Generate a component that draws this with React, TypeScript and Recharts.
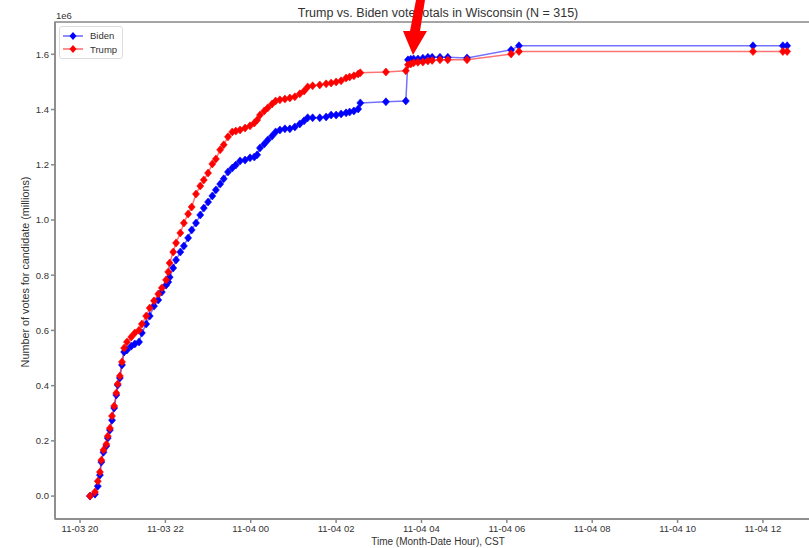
import React from "react";
import { LineChart, Line, XAxis, YAxis, Legend, ReferenceArea } from "recharts";

// report times (CST) shared by both candidates
const times = [
  "11-03 20:14", "11-03 20:21", "11-03 20:25", "11-03 20:28", "11-03 20:30", "11-03 20:33",
  "11-03 20:37", "11-03 20:39", "11-03 20:42", "11-03 20:45", "11-03 20:48", "11-03 20:51",
  "11-03 20:53", "11-03 20:56", "11-03 20:59", "11-03 21:02", "11-03 21:06", "11-03 21:12",
  "11-03 21:17", "11-03 21:23", "11-03 21:27", "11-03 21:33", "11-03 21:38", "11-03 21:44",
  "11-03 21:50", "11-03 21:55", "11-03 22:01", "11-03 22:04", "11-03 22:06", "11-03 22:11",
  "11-03 22:15", "11-03 22:21", "11-03 22:26", "11-03 22:32", "11-03 22:37", "11-03 22:43",
  "11-03 22:49", "11-03 22:54", "11-03 23:00", "11-03 23:06", "11-03 23:11", "11-03 23:17",
  "11-03 23:22", "11-03 23:28", "11-03 23:34", "11-03 23:39", "11-03 23:45", "11-03 23:52",
  "11-03 23:59", "11-04 00:05", "11-04 00:09", "11-04 00:13", "11-04 00:19", "11-04 00:24",
  "11-04 00:30", "11-04 00:35", "11-04 00:41", "11-04 00:48", "11-04 00:55", "11-04 01:02",
  "11-04 01:09", "11-04 01:15", "11-04 01:20", "11-04 01:27", "11-04 01:37", "11-04 01:46",
  "11-04 01:53", "11-04 02:00", "11-04 02:07", "11-04 02:14", "11-04 02:19", "11-04 02:25",
  "11-04 02:31", "11-04 02:34", "11-04 03:10", "11-04 03:38", "11-04 03:41", "11-04 03:45",
  "11-04 03:49", "11-04 03:55", "11-04 04:02", "11-04 04:09", "11-04 04:15", "11-04 04:26",
  "11-04 04:37", "11-04 05:04", "11-04 06:06", "11-04 06:17", "11-04 11:46", "11-04 12:28",
  "11-04 12:34",
];

const bidenVotes = [
  0, 7000, 36000, 76000, 123000, 159000, 181000, 210000, 239000, 275000, 319000, 366000,
  402000, 428000, 475000, 522000, 529000, 543000, 551000, 558000, 591000, 623000, 652000, 688000,
  710000, 739000, 764000, 775000, 793000, 826000, 855000, 884000, 906000, 935000, 964000, 989000,
  1018000, 1043000, 1065000, 1087000, 1109000, 1130000, 1149000, 1174000, 1188000, 1199000, 1214000, 1217000,
  1225000, 1228000, 1236000, 1261000, 1275000, 1290000, 1304000, 1319000, 1326000, 1330000, 1330000, 1337000,
  1348000, 1359000, 1370000, 1370000, 1370000, 1373000, 1380000, 1380000, 1384000, 1388000, 1391000, 1395000,
  1402000, 1424000, 1428000, 1431000, 1580000, 1582000, 1583000, 1583000, 1586000, 1589000, 1589000, 1589000,
  1589000, 1587000, 1616000, 1631000, 1631000, 1631000, 1631000,
];

const trumpVotes = [
  0, 15000, 54000, 87000, 130000, 167000, 188000, 217000, 246000, 290000, 326000, 373000,
  406000, 435000, 486000, 536000, 558000, 576000, 591000, 601000, 623000, 652000, 681000, 707000,
  732000, 754000, 783000, 812000, 844000, 884000, 917000, 953000, 989000, 1022000, 1047000, 1094000,
  1123000, 1145000, 1170000, 1203000, 1221000, 1254000, 1272000, 1301000, 1319000, 1322000, 1326000, 1333000,
  1341000, 1351000, 1362000, 1380000, 1395000, 1406000, 1420000, 1431000, 1435000, 1438000, 1442000, 1446000,
  1457000, 1467000, 1482000, 1486000, 1489000, 1493000, 1496000, 1500000, 1504000, 1514000, 1518000, 1522000,
  1529000, 1533000, 1536000, 1540000, 1562000, 1565000, 1569000, 1571000, 1572000, 1576000, 1578000, 1580000,
  1580000, 1580000, 1601000, 1610000, 1610000, 1610000, 1610000,
];

const xTicks = [20, 22, 24, 26, 28, 30, 32, 34, 36];
const yTicks = [0, 200000, 400000, 600000, 800000, 1000000, 1200000, 1400000, 1600000];

const X_DOMAIN: [number, number] = [19.414, 37.36];
const Y_DOMAIN: [number, number] = [-83000, 1717000];

const FONT = "'Liberation Sans', 'DejaVu Sans', sans-serif";
const BLUE = "#0000ff";
const RED = "#ff0000";

// hours since 11-03 00:00
const toHours = (t: string) => {
  const [md, hm] = t.split(" ");
  const day = Number(md.split("-")[1]);
  const [h, m] = hm.split(":").map(Number);
  return (day - 3) * 24 + h + m / 60;
};

const data = times.map((t, i) => ({
  t: toHours(t),
  Biden: bidenVotes[i],
  Trump: trumpVotes[i],
}));

const fmtX = (h: number) => {
  const day = h < 24 ? "11-03" : "11-04";
  const hh = h % 24;
  return `${day} ${hh < 10 ? "0" + hh : hh}`;
};

const diamond = (color: string) => (props: any) => {
  const { cx, cy, index } = props;
  if (cx == null || cy == null) return <g key={index} />;
  return (
    <polygon
      key={index}
      points={`${cx},${cy - 4} ${cx + 3.5},${cy} ${cx},${cy + 4} ${cx - 3.5},${cy}`}
      fill={color}
      stroke={color}
      strokeWidth={0.6}
    />
  );
};

const legendItems = [
  { name: "Biden", color: BLUE },
  { name: "Trump", color: RED },
];

const renderLegend = () => (
  <div
    style={{
      border: "1px solid #ddd",
      borderRadius: 3,
      background: "#fff",
      padding: "2px 5px 2px 3px",
      fontFamily: FONT,
      fontSize: 9.5,
      color: "#333",
    }}
  >
    {legendItems.map((s) => (
      <div key={s.name} style={{ display: "flex", alignItems: "center", height: 13.5 }}>
        <svg width={20} height={10}>
          <line x1={0} y1={5} x2={20} y2={5} stroke={s.color} strokeOpacity={0.6} strokeWidth={1.5} />
          <polygon points="10,1 13.5,5 10,9 6.5,5" fill={s.color} />
        </svg>
        <span style={{ marginLeft: 7 }}>{s.name}</span>
      </div>
    ))}
  </div>
);

const tickStyle = { fill: "#333", fontSize: 9.5, fontFamily: FONT };

export default function App() {
  return (
    <div style={{ position: "absolute", left: 0, top: 0, width: 809, height: 548, overflow: "hidden", background: "#fff" }}>
      <LineChart
        width={840}
        height={548}
        data={data}
        margin={{ top: 22, right: 19, bottom: 9, left: 25 }}
      >
        <XAxis
          dataKey="t"
          type="number"
          domain={X_DOMAIN}
          ticks={xTicks}
          tickFormatter={fmtX}
          height={20}
          tickSize={4}
          stroke="#888"
          strokeWidth={1.5}
          tick={tickStyle}
          allowDataOverflow
        />
        <YAxis
          type="number"
          domain={Y_DOMAIN}
          ticks={yTicks}
          tickFormatter={(v: number) => (v / 1e6).toFixed(1)}
          width={30}
          tickSize={4}
          stroke="#888"
          strokeWidth={1.5}
          tick={tickStyle}
          allowDataOverflow
        />
        {/* frame (top and right spines) */}
        <ReferenceArea
          x1={X_DOMAIN[0]}
          x2={X_DOMAIN[1]}
          y1={Y_DOMAIN[0]}
          y2={Y_DOMAIN[1]}
          fill="none"
          fillOpacity={0}
          stroke="#888"
          strokeWidth={1.5}
          ifOverflow="visible"
        />
        <Legend
          layout="vertical"
          align="center"
          verticalAlign="middle"
          content={renderLegend}
          wrapperStyle={{ left: 59, top: 26, width: "auto", height: "auto" }}
        />
        <Line
          dataKey="Biden"
          stroke={BLUE}
          strokeOpacity={0.55}
          strokeWidth={1.5}
          dot={diamond(BLUE)}
          activeDot={false}
          isAnimationActive={false}
        />
        <Line
          dataKey="Trump"
          stroke={RED}
          strokeOpacity={0.55}
          strokeWidth={1.5}
          dot={diamond(RED)}
          activeDot={false}
          isAnimationActive={false}
        />
      </LineChart>
      <svg width={809} height={548} style={{ position: "absolute", left: 0, top: 0, pointerEvents: "none" }}>
        <text x={438} y={17} textAnchor="middle" fontFamily={FONT} fontSize={12.5} fill="#333">
          Trump vs. Biden vote totals in Wisconsin (N = 315)
        </text>
        <text x={56} y={19} fontFamily={FONT} fontSize={9.5} fill="#333">1e6</text>
        <text
          x={0}
          y={0}
          transform="translate(29,272) rotate(-90)"
          textAnchor="middle"
          fontFamily={FONT}
          fontSize={10.8}
          fill="#333"
        >
          Number of votes for candidate (millions)
        </text>
        <text x={438} y={545} textAnchor="middle" fontFamily={FONT} fontSize={10} fill="#333">
          Time (Month-Date Hour), CST
        </text>
        <polygon points="416,0 425,0 420,31 427,31 413,55 403,31 410,31" fill={RED} />
      </svg>
    </div>
  );
}
